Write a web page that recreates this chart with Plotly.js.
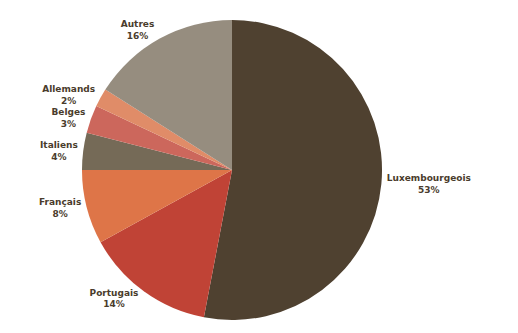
<!DOCTYPE html>
<html><head><meta charset="utf-8">
<script src="https://cdn.plot.ly/plotly-3.0.1.min.js"></script>
<style>html,body{margin:0;padding:0;background:#fff}#chart{width:518px;height:333px}</style>
</head><body><div id="chart"></div>
<script>
const categories = ["Luxembourgeois","Portugais","Français","Italiens","Belges","Allemands","Autres"];
const shares = [53,14,8,4,3,2,16];
const colors = ["#4f4130","#c04336","#de7548","#756a57","#cc675c","#e08c68","#968d7f"];

Plotly.newPlot("chart",[{
  type:"pie",
  labels:categories,
  values:shares,
  sort:false,
  direction:"clockwise",
  rotation:0,
  marker:{colors:colors,line:{width:0}},
  textposition:"outside",
  texttemplate:"%{label}<br>%{value}%",
  outsidetextfont:{family:"DejaVu Sans",size:9,color:"#4a3c2c",weight:"bold"},
  hoverinfo:"none",
  automargin:false,
  domain:{x:[0.1583,0.7375],y:[0.039,0.94]},
  showlegend:false
}],{
  width:518,height:333,
  margin:{l:0,r:0,t:0,b:0},
  paper_bgcolor:"#fff",
  showlegend:false
},{staticPlot:true,displayModeBar:false});
</script></body></html>
